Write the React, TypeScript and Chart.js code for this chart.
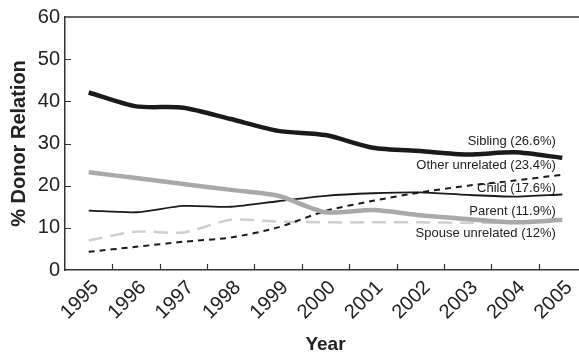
import React, { useEffect, useRef } from "react";
import { Chart, registerables } from "chart.js";

Chart.register(...registerables);

const years = ["1995", "1996", "1997", "1998", "1999", "2000", "2001", "2002", "2003", "2004", "2005"];
const sibling = [42.1, 38.8, 38.5, 35.8, 33.0, 32.0, 29.0, 28.2, 27.4, 27.9, 26.6];
const parent = [23.2, 21.8, 20.4, 19.0, 17.6, 13.7, 14.2, 13.0, 12.1, 11.3, 11.9];
const child = [14.1, 13.7, 15.2, 15.0, 16.3, 17.6, 18.2, 18.4, 17.8, 17.4, 17.9];
const otherUnrelated = [4.3, 5.5, 6.7, 7.7, 10.1, 14.0, 16.4, 18.4, 20.0, 21.2, 22.6];
const spouseUnrelated = [7.0, 9.1, 8.9, 11.9, 11.5, 11.3, 11.3, 11.3, 11.2, 11.3, 11.8];
const yTicks = [0, 10, 20, 30, 40, 50, 60];

const endLabels = [
  "Sibling (26.6%)",
  "Other unrelated (23.4%)",
  "Child (17.6%)",
  "Parent (11.9%)",
  "Spouse unrelated (12%)",
];
const endLabelValues = [30.4, 24.8, 19.3, 14.0, 8.6];

const FONT = "'Liberation Sans', Arial, Helvetica, sans-serif";

const framePlugin = {
  id: "frame",
  afterDatasetsDraw(chart: any) {
    const { ctx, chartArea, scales } = chart;
    const x = scales.x;
    const y = scales.y;
    ctx.save();
    ctx.strokeStyle = "#333";
    ctx.lineWidth = 1.5;
    ctx.beginPath();
    ctx.moveTo(chartArea.left, chartArea.top);
    ctx.lineTo(chartArea.right, chartArea.top);
    ctx.stroke();
    ctx.lineWidth = 1.2;
    ctx.beginPath();
    yTicks.forEach((v) => {
      if (v === 0 || v === 60) return;
      const py = Math.round(y.getPixelForValue(v)) + 0.5;
      ctx.moveTo(chartArea.left, py);
      ctx.lineTo(chartArea.left + 6, py);
    });
    for (let i = 1; i < years.length; i++) {
      const px = Math.round((x.getPixelForValue(i - 1) + x.getPixelForValue(i)) / 2) + 0.5;
      ctx.moveTo(px, chartArea.bottom);
      ctx.lineTo(px, chartArea.bottom - 6);
    }
    ctx.stroke();

    ctx.fillStyle = "#222";
    ctx.font = `13px ${FONT}`;
    ctx.textAlign = "right";
    ctx.textBaseline = "middle";
    const lx = x.getPixelForValue(years.length - 1) - 6.5;
    endLabels.forEach((t, i) => {
      ctx.fillText(t, lx, y.getPixelForValue(endLabelValues[i]));
    });
    ctx.restore();
  },
};

export default function App() {
  const ref = useRef<HTMLCanvasElement>(null);
  useEffect(() => {
    document.body.style.overflow = "hidden";
    const chart = new Chart(ref.current!, {
      type: "line",
      data: {
        labels: years,
        datasets: [
          { label: "Sibling", data: sibling, borderColor: "#1a1a1a", borderWidth: 4.5, order: 1 },
          { label: "Parent", data: parent, borderColor: "#a9a9a9", borderWidth: 4.5, order: 2 },
          { label: "Child", data: child, borderColor: "#1a1a1a", borderWidth: 1.8, order: 3 },
          { label: "Other unrelated", data: otherUnrelated, borderColor: "#1a1a1a", borderWidth: 2, borderDash: [6, 5], order: 4 },
          { label: "Spouse unrelated", data: spouseUnrelated, borderColor: "#cfcfcf", borderWidth: 2.5, borderDash: [14, 8], order: 5 },
        ].map((d) => ({ ...d, pointRadius: 0, tension: 0.25, fill: false })),
      },
      options: {
        animation: false,
        responsive: false,
        layout: { padding: { top: 17, right: 1, left: 0, bottom: 0 } },
        plugins: { legend: { display: false }, tooltip: { enabled: false } },
        scales: {
          x: {
            type: "category",
            offset: true,
            grid: { display: false, drawTicks: false, offset: true },
            border: { display: true, color: "#333", width: 1.5 },
            ticks: {
              autoSkip: false,
              maxRotation: 45,
              minRotation: 45,
              padding: 6,
              labelOffset: 7,
              color: "#222",
              font: { family: FONT, size: 20 },
            },
            title: {
              display: true,
              text: "Year",
              color: "#222",
              font: { family: FONT, size: 19, weight: "bold" },
              padding: { top: 0, bottom: 0 },
            },
            afterFit: (s: any) => {
              s.height = 86;
            },
          },
          y: {
            min: 0,
            max: 60,
            grid: { display: false, drawTicks: false },
            border: { display: true, color: "#333", width: 1.5 },
            ticks: {
              stepSize: 10,
              padding: 5,
              color: "#222",
              font: { family: FONT, size: 20 },
            },
            title: {
              display: true,
              text: "% Donor Relation",
              color: "#222",
              font: { family: FONT, size: 20, weight: "bold" },
              padding: { top: 7, bottom: 0 },
            },
            afterFit: (s: any) => {
              s.width = 65;
            },
          },
        },
      },
      plugins: [framePlugin],
    });
    return () => chart.destroy();
  }, []);
  return (
    <div style={{ position: "fixed", left: 0, top: 0, width: 579, height: 356, overflow: "hidden", background: "#fff" }}>
      <canvas ref={ref} width={587} height={356} style={{ display: "block", width: 587, height: 356 }} />
    </div>
  );
}
